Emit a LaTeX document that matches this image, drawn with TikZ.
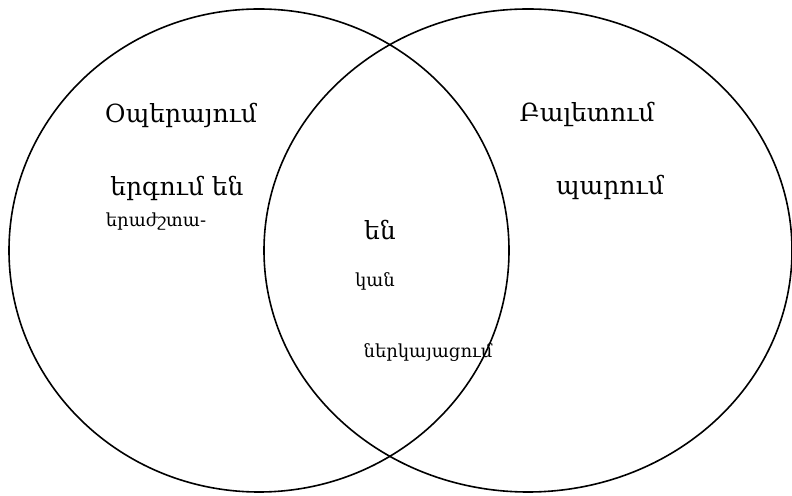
\documentclass[tikz,border=0pt]{standalone}
\usepackage{fontspec}
\setmainfont{DejaVu Serif}
\begin{document}
\begin{tikzpicture}[x=1pt,y=1pt,
  big/.style={inner sep=0pt,font=\fontsize{25}{30}\selectfont},
  small/.style={inner sep=0pt,font=\fontsize{18}{22}\selectfont},
  venn/.style={line width=1.6pt}]
\useasboundingbox (0,0) rectangle (792,495);
\draw[venn] (259,244.5) ellipse [x radius=250, y radius=241.5];
\draw[venn] (528,244.5) ellipse [x radius=264, y radius=241.5];
\node[big] (opera) at (181,380) {Օպերայում};
\node[big] (sing) at (177,307) {երգում են};
\node[small] (music) at (156,273) {երաժշտա-};
\node[big] (ballet) at (587,381) {Բալետում};
\node[big] (dance) at (610,308) {պարում};
\node[big] (en) at (380,265) {են};
\node[small] (kan) at (375,214) {կան};
\node[small] (perf) at (428,142) {ներկայացում};
\end{tikzpicture}
\end{document}
